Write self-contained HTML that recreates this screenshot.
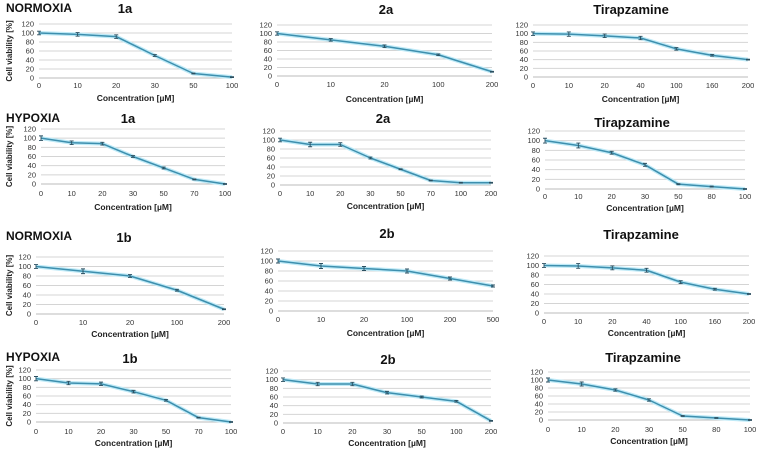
<!DOCTYPE html>
<html><head><meta charset="utf-8"><style>
html,body{margin:0;padding:0;background:#fff}
svg{display:block;font-family:"Liberation Sans",sans-serif}
</style></head><body>
<svg id="fig" width="760" height="451" viewBox="0 0 760 451" xmlns="http://www.w3.org/2000/svg">
<text x="6" y="12" font-size="12" font-weight="bold" fill="#111">NORMOXIA</text>
<text x="6" y="122" font-size="12" font-weight="bold" fill="#111">HYPOXIA</text>
<text x="6" y="240" font-size="12" font-weight="bold" fill="#111">NORMOXIA</text>
<text x="6" y="361" font-size="12" font-weight="bold" fill="#111">HYPOXIA</text>
</svg>
<script>
// categories (x tick labels)
const cats1aN = ["0","10","20","30","50","100"];
const cats2aN = ["0","10","20","100","200"];
const catsTirN = ["0","10","20","40","100","160","200"];
const cats1aH = ["0","10","20","30","50","70","100"];
const cats2aH = ["0","10","20","30","50","70","100","200"];
const catsTirH = ["0","10","20","30","50","80","100"];
const cats1bN = ["0","10","20","100","200"];
const cats2bN = ["0","10","20","100","200","500"];
const cats1bH = ["0","10","20","30","50","70","100"];
const cats2bH = ["0","10","20","30","50","100","200"];
// series values (cell viability %)
const vals1aN = [100,97,92,50,10,2];
const vals2aN = [100,85,70,50,10];
const valsTirN = [100,99,95,90,65,50,40];
const vals1aH = [100,90,88,60,35,10,0];
const vals2aH = [100,90,90,60,35,10,5,5];
const valsTirH = [100,90,75,50,10,5,0];
const vals1bN = [100,90,80,50,10];
const vals2bN = [100,90,85,80,65,50];
const valsTirN2 = [100,99,95,90,65,50,40];
const vals1bH = [100,90,88,70,50,10,0];
const vals2bH = [100,90,90,70,60,50,5];
const valsTirH2 = [100,90,75,50,10,5,0];
// error bar half-widths
const err1aN = [4,4,4,2,1,1];
const err2aN = [4,3,3,2,1];
const errTirN = [4,5,4,4,3,2,1];
const err1aH = [5,4,3,2,2,1,1];
const err2aH = [4,5,4,2,1,1,1,1];
const errTirH = [5,5,3,3,1,1,1];
const err1bN = [4,5,3,2,1];
const err2bN = [4,5,4,4,3,2];
const err1bH = [5,4,4,3,2,1,1];
const err2bH = [4,4,4,3,2,2,1];
const yTicks = [0,20,40,60,80,100,120];

const panels = [
 {n:"1a-normoxia",t:"1a",tx:125,ty:13,c:cats1aN,v:vals1aN,e:err1aN,x0:39,x1:232,yt:24,yb:78,lab:88,xt:101,yl:true},
 {n:"2a-normoxia",t:"2a",tx:386,ty:14,c:cats2aN,v:vals2aN,e:err2aN,x0:277,x1:492,yt:25,yb:76,lab:87,xt:102},
 {n:"tirapazamine-normoxia",t:"Tirapzamine",tx:631,ty:14,c:catsTirN,v:valsTirN,e:errTirN,x0:533,x1:748,yt:25,yb:77,lab:88,xt:102},
 {n:"1a-hypoxia",t:"1a",tx:128,ty:123,c:cats1aH,v:vals1aH,e:err1aH,x0:41,x1:225,yt:129,yb:184,lab:196,xt:210,yl:true},
 {n:"2a-hypoxia",t:"2a",tx:383,ty:123,c:cats2aH,v:vals2aH,e:err2aH,x0:280,x1:491,yt:131,yb:185,lab:196,xt:209},
 {n:"tirapazamine-hypoxia",t:"Tirapzamine",tx:632,ty:127,c:catsTirH,v:valsTirH,e:errTirH,x0:545,x1:745,yt:131,yb:189,lab:199,xt:211},
 {n:"1b-normoxia",t:"1b",tx:124,ty:242,c:cats1bN,v:vals1bN,e:err1bN,x0:36,x1:224,yt:257,yb:314,lab:325,xt:337,yl:true},
 {n:"2b-normoxia",t:"2b",tx:387,ty:238,c:cats2bN,v:vals2bN,e:err2bN,x0:278,x1:493,yt:251,yb:311,lab:322,xt:336},
 {n:"tirapazamine-normoxia-2",t:"Tirapzamine",tx:641,ty:239,c:catsTirN,v:valsTirN2,e:errTirN,x0:544,x1:749,yt:256,yb:313,lab:324,xt:336},
 {n:"1b-hypoxia",t:"1b",tx:130,ty:363,c:cats1bH,v:vals1bH,e:err1bH,x0:36,x1:231,yt:370,yb:422,lab:434,xt:446,yl:true},
 {n:"2b-hypoxia",t:"2b",tx:388,ty:364,c:cats2bH,v:vals2bH,e:err2bH,x0:283,x1:491,yt:371,yb:423,lab:434,xt:446},
 {n:"tirapazamine-hypoxia-2",t:"Tirapzamine",tx:643,ty:362,c:catsTirH,v:valsTirH2,e:errTirH,x0:548,x1:750,yt:372,yb:420,lab:432,xt:444}
];
const NS="http://www.w3.org/2000/svg";
const svg=document.getElementById('fig');
function mk(tag,attrs,parent){const el=document.createElementNS(NS,tag);for(const k in attrs)el.setAttribute(k,attrs[k]);parent.appendChild(el);return el;}
panels.forEach(p=>{
  const g=mk('g',{},svg);
  
  
  const xs=i=>p.x0+(p.x1-p.x0)*i/(p.c.length-1);
  const ys=v=>p.yb-(p.yb-p.yt)*v/120;
  const tt=mk('text',{x:p.tx,y:p.ty,'font-size':13,'font-weight':'bold','text-anchor':'middle',fill:'#111'},g);
  tt.textContent=p.t;
  
  
  yTicks.forEach(t=>{
    const y=ys(t);
    const gl=mk('line',{x1:p.x0,x2:p.x1,y1:y,y2:y,stroke:t===0?'#bbb':'#d4d4d4','stroke-width':1},g);
    
    
    const tl=mk('text',{x:p.x0-5,y:y+2.5,'font-size':7.5,'text-anchor':'end',fill:'#333'},g);
    tl.textContent=t;
    
    
  });
  p.c.forEach((c,i)=>{
    const xl=mk('text',{x:xs(i),y:p.lab,'font-size':7.5,'text-anchor':'middle',fill:'#333'},g);
    xl.textContent=c;
    
    
  });
  const pts=p.v.map((v,i)=>xs(i)+','+ys(v)).join(' ');
  const glow=mk('polyline',{points:pts,fill:'none',stroke:'#bfeaf7','stroke-width':4,'stroke-linejoin':'round'},g);
  
  
  const ln=mk('polyline',{points:pts,fill:'none',stroke:'#3d8fae','stroke-width':1.5,'stroke-linejoin':'round'},g);
  
  
  p.v.forEach((v,i)=>{
    const x=xs(i),e=p.e[i];
    const eb=mk('path',{d:`M${x},${ys(v+e)}V${ys(v-e)}M${x-2},${ys(v+e)}H${x+2}M${x-2},${ys(v-e)}H${x+2}`,stroke:'#2b4f60','stroke-width':0.9,fill:'none'},g);
    
    
  });
  const xt=mk('text',{x:(p.x0+p.x1)/2,y:p.xt,'font-size':8.5,'font-weight':'bold','text-anchor':'middle',fill:'#222'},g);
  xt.textContent='Concentration [µM]';
  
  
  if(p.yl){
    const cy=(p.yt+p.yb)/2;
    const yt=mk('text',{x:12,y:cy,'font-size':8,'font-weight':'bold','text-anchor':'middle',fill:'#222',transform:`rotate(-90 12 ${cy})`},g);
    yt.textContent='Cell viability [%]';
    
    
  }
});
</script>
</body></html>
